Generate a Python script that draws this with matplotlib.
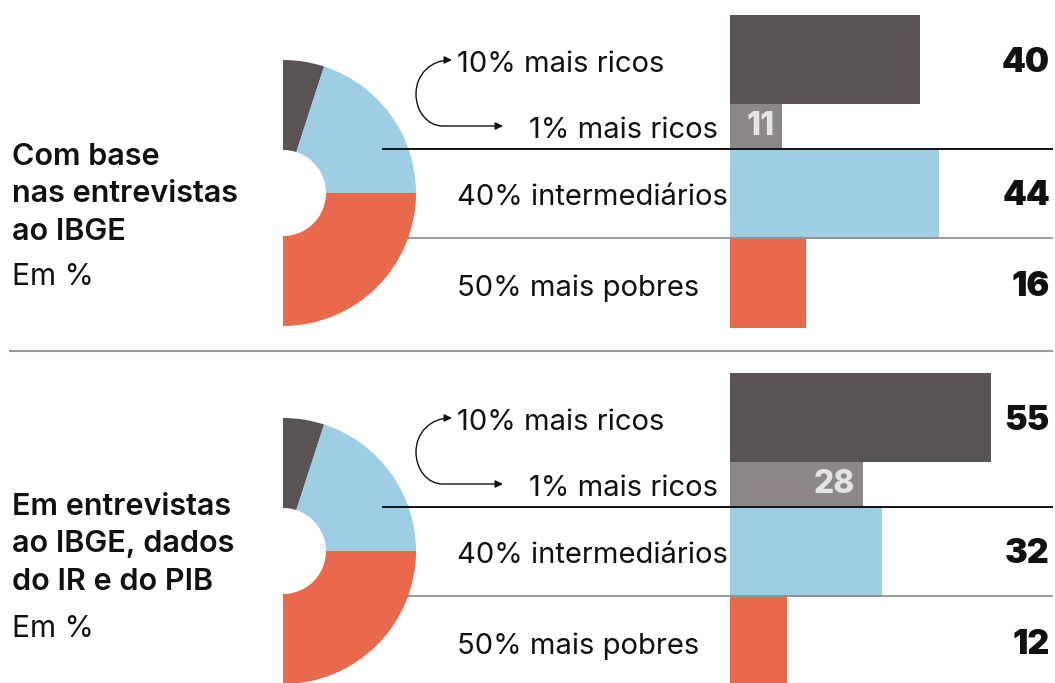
import matplotlib
matplotlib.use("Agg")
import matplotlib.pyplot as plt
from matplotlib.patches import FancyArrowPatch
from matplotlib.path import Path

plt.rcParams["font.family"] = ["Inter", "DejaVu Sans"]

# ------------------------------------------------------------------
# data
# ------------------------------------------------------------------
groups = ["10% mais ricos", "1% mais ricos", "40% intermediários", "50% mais pobres"]
population_share = [10, 40, 50]          # half donut: 10% / 40% / 50% of people
income_ibge = [40, 11, 44, 16]           # top panel
income_ir_pib = [55, 28, 32, 12]         # bottom panel
titles = [
    ["Com base", "nas entrevistas", "ao IBGE"],
    ["Em entrevistas", "ao IBGE, dados", "do IR e do PIB"],
]
unit_label = "Em %"

# colours
DARK = "#595354"
GRAY = "#8c8888"
BLUE = "#9ecde4"
RED = "#e8694b"
INK = "#111111"

# ------------------------------------------------------------------
# layout (pixels)
# ------------------------------------------------------------------
W, H = 1055, 683
PANEL_TOP = [15, 373]
BAR_LEFT, BAR_RIGHT = 730, 1052
PX_PER_UNIT = 4.75
PANEL_H = 313
ROW_CENTER = [1, 2.5, 4, 6]
ROW_HEIGHT = [2, 1, 2, 2]
ROW_COLORS = [DARK, GRAY, BLUE, RED]


def px_axes(fig, x, y, w, h, **kw):
    return fig.add_axes([x / W, 1 - (y + h) / H, w / W, h / H], **kw)


fig = plt.figure(figsize=(W / 100, H / 100), dpi=100)

base = px_axes(fig, 0, 0, W, H)
base.set_xlim(0, W)
base.set_ylim(H, 0)
base.axis("off")
base.set_zorder(5)
base.patch.set_alpha(0)

for p, (y0, values, title) in enumerate(zip(PANEL_TOP, [income_ibge, income_ir_pib], titles)):
    # half donut
    r_out, r_in = 133, 43
    cx, cy = 283, y0 + 178
    pax = px_axes(fig, cx - r_out, cy - r_out, 2 * r_out, 2 * r_out)
    pax.pie(population_share + [sum(population_share)], startangle=90, counterclock=False,
            colors=[DARK, BLUE, RED, "none"], radius=1,
            wedgeprops=dict(width=1 - r_in / r_out, linewidth=0))
    pax.set_xlim(-1, 1)
    pax.set_ylim(-1, 1)
    pax.set_zorder(1)

    # bars
    bax = px_axes(fig, BAR_LEFT, y0, BAR_RIGHT - BAR_LEFT, PANEL_H)
    bax.barh(ROW_CENTER, values, height=ROW_HEIGHT, color=ROW_COLORS, left=0)
    bax.set_xlim(0, (BAR_RIGHT - BAR_LEFT) / PX_PER_UNIT)
    bax.set_ylim(7, 0)
    bax.axis("off")
    bax.set_zorder(2)

    baselines = [57, 123, 190, 281]
    for i, (lab, val) in enumerate(zip(groups, values)):
        if i == 1:
            base.text(718, y0 + baselines[i], lab, fontsize=21, ha="right", va="baseline",
                      color=INK)
            bax.text(val - 1.6, ROW_CENTER[i], str(val), fontsize=23, fontweight="heavy",
                     ha="right", va="center", color="#e4e4e4")
        else:
            base.text(457, y0 + baselines[i], lab, fontsize=21, ha="left", va="baseline",
                      color=INK)
            base.text(1050, y0 + baselines[i], str(val), fontsize=24.5, fontweight="black",
                      ha="right", va="baseline", color=INK)

    # row separators
    base.plot([383, 1052], [y0 + 134, y0 + 134], color=INK, lw=1.4)
    base.plot([408, 1052], [y0 + 223, y0 + 223], color="#8a8a8a", lw=1.2)

    # curved arrow linking 10% and 1%
    verts = [(503, y0 + 111), (443, y0 + 111),
             (427, y0 + 111), (416, y0 + 96), (416, y0 + 79),
             (416, y0 + 60), (430, y0 + 45), (452, y0 + 45)]
    codes = [Path.MOVETO, Path.LINETO,
             Path.CURVE4, Path.CURVE4, Path.CURVE4,
             Path.CURVE4, Path.CURVE4, Path.CURVE4]
    arrow = FancyArrowPatch(path=Path(verts, codes),
                            arrowstyle="<|-|>,head_length=0.45,head_width=0.22",
                            mutation_scale=10, color=INK, lw=1)
    base.add_patch(arrow)

    # left titles
    tb = [165, 515][p]
    for k, line in enumerate(title):
        base.text(12, tb + 37.5 * k, line, fontsize=22, fontweight="semibold",
                  ha="left", va="baseline", color=INK)
    base.text(12, tb + [120, 122][p], unit_label, fontsize=21.5, ha="left",
              va="baseline", color=INK)

# panel separator
base.plot([10, 1052], [351, 351], color="#999999", lw=1.5)

fig.savefig("out.png", dpi=100)
